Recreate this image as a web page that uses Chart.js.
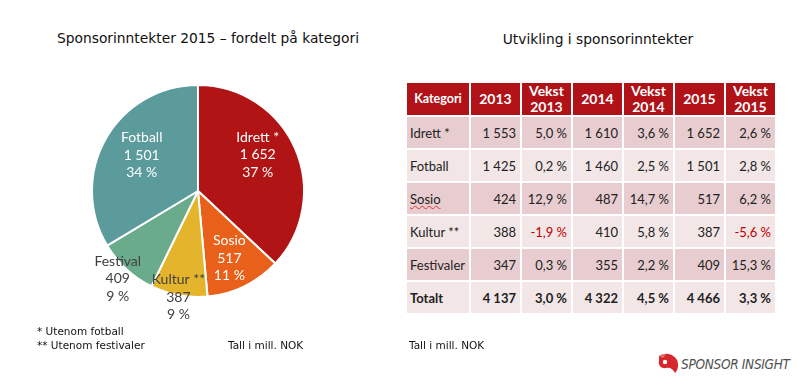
<!DOCTYPE html>
<html>
<head>
<meta charset="utf-8">
<script src="https://cdn.jsdelivr.net/npm/chart.js@4"></script>
<style>
  body { margin: 0; width: 811px; height: 389px; background: #fff; position: relative; overflow: hidden; font-family: Lato, sans-serif; }
  .title { position: absolute; font-family: 'DejaVu Sans', Verdana, sans-serif; font-size: 13.8px; color: #111; white-space: nowrap; transform: translateX(-50%); }
  .note { position: absolute; font-family: 'DejaVu Sans', Verdana, sans-serif; font-size: 10.5px; color: #111; white-space: nowrap; }
  #pieBox { position: absolute; left: 58px; top: 51px; width: 280px; height: 280px; }
  table { position: absolute; left: 405px; top: 81px; border-collapse: separate; border-spacing: 2px; font-size: 13px; color: #222; }
  th { background: #b01218; color: #fff; font-weight: bold; font-size: 14px; height: 32px; line-height: 16px; padding: 0; text-align: center; }
  th.kat { font-size: 12.5px; }
  td { height: 31px; padding: 0 4px 0 3px; text-align: right; width: 42px; }
  td.kat { text-align: left; width: 55px; padding-left: 3px; }
  tr.dark td { background: #e8cdd0; }
  tr.light td { background: #f2e6e7; }
  tr.total td { font-weight: bold; }
  .neg { color: #c00000; }
  .spell { text-decoration: underline wavy #e03030; text-decoration-thickness: 1px; }
  #logo { position: absolute; left: 656px; top: 352px; }
  #logoText { position: absolute; left: 681px; top: 356px; font-family: 'DejaVu Sans Condensed', 'DejaVu Sans', sans-serif; font-size: 13.5px; font-style: italic; color: #505050; letter-spacing: -0.3px; white-space: nowrap; }
</style>
</head>
<body>
<div class="title" style="left:208px; top:30px;">Sponsorinntekter 2015 – fordelt på kategori</div>
<div class="title" style="left:598px; top:31px;">Utvikling i sponsorinntekter</div>

<div id="pieBox"><canvas id="pie"></canvas></div>

<div class="note" style="left:37px; top:325px;">* Utenom fotball</div>
<div class="note" style="left:37px; top:339px;">** Utenom festivaler</div>
<div class="note" style="left:228px; top:339px;">Tall i mill. NOK</div>
<div class="note" style="left:409px; top:339px;">Tall i mill. NOK</div>

<table id="tbl"></table>

<svg id="logo" width="24" height="22" viewBox="0 0 24 22">
  <path d="M3 4 C8 0 17 1 21 8 C23 13 22 18 19 21 C17 17 14 15 10 16 C5 17 2 13 3 9 Z" fill="#d7262c"/>
  <circle cx="9" cy="10" r="2.2" fill="#fff"/>
  <path d="M3 4 C5 2 8 1.5 10 2 L7 6 Z" fill="#fff" opacity="0.35"/>
</svg>
<div id="logoText">SPONSOR INSIGHT</div>

<script>
// Kakediagram 2015
const pieLabels = ['Idrett *', 'Sosio', 'Kultur **', 'Festival', 'Fotball'];
const pieValues = [1652, 517, 387, 409, 1501];
const piePct = ['37 %', '11 %', '9 %', '9 %', '34 %'];
const pieColors = ['#b01414', '#e8601a', '#e3b42c', '#6aab8b', '#5c9b9c'];
const labelColors = ['#ffffff', '#ffffff', '#404040', '#404040', '#ffffff'];
const labelRadius = [0.66, 0.70, 1.02, 1.12, 0.63];
const labelTurn = [-8, 1, 0, 0, 3];   // grader

// Tabell
const tblHeader = ['Kategori', '2013', 'Vekst<br>2013', '2014', 'Vekst<br>2014', '2015', 'Vekst<br>2015'];
const tblCategories = ['Idrett *', 'Fotball', 'Sosio', 'Kultur **', 'Festivaler', 'Totalt'];
const val2013 = ['1 553', '1 425', '424', '388', '347', '4 137'];
const vekst2013 = ['5,0 %', '0,2 %', '12,9 %', '-1,9 %', '0,3 %', '3,0 %'];
const val2014 = ['1 610', '1 460', '487', '410', '355', '4 322'];
const vekst2014 = ['3,6 %', '2,5 %', '14,7 %', '5,8 %', '2,2 %', '4,5 %'];
const val2015 = ['1 652', '1 501', '517', '387', '409', '4 466'];
const vekst2015 = ['2,6 %', '2,8 %', '6,2 %', '-5,6 %', '15,3 %', '3,3 %'];

function fmt(n) {
  return String(n).replace(/\B(?=(\d{3})+(?!\d))/g, ' ');
}

// bygg tabellen
const tbl = document.getElementById('tbl');
let html = '<tr>' + tblHeader.map((h, i) => `<th class="${i === 0 ? 'kat' : ''}">${h}</th>`).join('') + '</tr>';
tblCategories.forEach((cat, i) => {
  const cls = i === tblCategories.length - 1 ? 'light total' : (i % 2 === 0 ? 'dark' : 'light');
  const cells = [val2013[i], vekst2013[i], val2014[i], vekst2014[i], val2015[i], vekst2015[i]];
  const name = cat === 'Sosio' ? '<span class="spell">Sosio</span>' : cat;
  html += `<tr class="${cls}"><td class="kat">${name}</td>` +
    cells.map(c => `<td class="${c.startsWith('-') ? 'neg' : ''}">${c}</td>`).join('') + '</tr>';
});
tbl.innerHTML = html;

// etiketter i kaken
const sliceLabels = {
  id: 'sliceLabels',
  afterDatasetsDraw(chart) {
    const ctx = chart.ctx;
    const meta = chart.getDatasetMeta(0);
    ctx.save();
    ctx.font = '14px Lato';
    ctx.textAlign = 'center';
    ctx.textBaseline = 'middle';
    meta.data.forEach((arc, i) => {
      const p = arc.getProps(['x', 'y', 'startAngle', 'endAngle', 'outerRadius'], true);
      const mid = (p.startAngle + p.endAngle) / 2 + labelTurn[i] * Math.PI / 180;
      const r = p.outerRadius * labelRadius[i];
      const cx = p.x + Math.cos(mid) * r;
      const cy = p.y + Math.sin(mid) * r;
      const lines = [pieLabels[i], fmt(pieValues[i]), piePct[i]];
      ctx.fillStyle = labelColors[i];
      lines.forEach((t, j) => ctx.fillText(t, cx, cy + (j - 1) * 17.5));
    });
    ctx.restore();
  }
};

new Chart(document.getElementById('pie'), {
  type: 'pie',
  data: {
    labels: pieLabels,
    datasets: [{
      data: pieValues,
      backgroundColor: pieColors,
      borderColor: '#ffffff',
      borderWidth: 2
    }]
  },
  options: {
    responsive: true,
    maintainAspectRatio: false,
    animation: false,
    radius: 106,
    layout: { padding: 0 },
    plugins: {
      legend: { display: false },
      tooltip: { enabled: false }
    }
  },
  plugins: [sliceLabels]
});
</script>
</body>
</html>
